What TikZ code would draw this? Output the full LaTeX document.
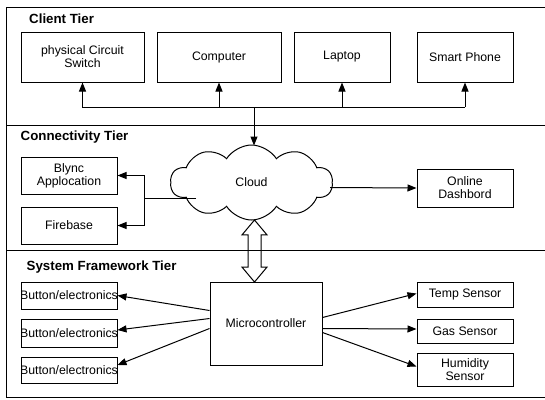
\documentclass[tikz,border=0pt]{standalone}
\usepackage{fontspec}
\setmainfont{Liberation Sans}
\usetikzlibrary{shapes.symbols,shapes.arrows,arrows.meta,calc}
\begin{document}
\begin{tikzpicture}[x=1pt,y=-1pt,
  box/.style={draw, line width=1pt, inner sep=0pt, align=center, font=\fontsize{12.3}{13}\selectfont},
  tier/.style={anchor=west, inner sep=0pt, font=\fontsize{13.3}{14}\selectfont\bfseries},
  frame/.style={line width=0.9pt},
  arr/.style={line width=1pt, -{Triangle[length=9pt,width=7pt]}},
  ln/.style={line width=1pt}]
\useasboundingbox (0,0) rectangle (545,399);
% frame
\draw[frame] (546,7) -- (6.5,7) -- (6.5,397.5) -- (546,397.5);
\draw[frame] (6.5,125.5) -- (546,125.5);
\draw[frame] (6.5,250.5) -- (546,250.5);
% titles
\node[tier] (t1) at (29,19) {Client Tier};
\node[tier] (t2) at (20.5,137) {Connectivity Tier};
\node[tier] (t3) at (26.5,267) {System Framework Tier};
% client boxes
\node[box, minimum width=123pt, minimum height=50pt] (pcs) at (82.5,57) {physical Circuit\\Switch};
\node[box, minimum width=124pt, minimum height=50pt] (comp) at (219,57) {Computer};
\node[box, minimum width=96pt, minimum height=50pt] (lap) at (342,57) {Laptop};
\node[box, minimum width=96pt, minimum height=50pt] (phone) at (465,57) {Smart Phone};
% cloud
\node[cloud, draw, line width=1pt, cloud puffs=10, cloud puff arc=115, aspect=2.3,
      minimum width=162pt, minimum height=75pt, inner sep=0pt, font=\fontsize{12.3}{13}\selectfont] (cloud) at (251.5,182.5) {Cloud};
% connectivity boxes
\node[box, minimum width=96pt, minimum height=37pt] (blync) at (69,175.5) {Blync\\Applocation};
\node[box, minimum width=96pt, minimum height=37pt] (fire) at (69,225.5) {Firebase};
\node[box, minimum width=96pt, minimum height=38pt] (dash) at (465,188) {Online\\Dashbord};
% system boxes
\node[box, minimum width=112pt, minimum height=83pt] (mc) at (266,323.5) {Microcontroller};
\node[box, minimum width=96pt, minimum height=27pt] (b1) at (69,295.5) {};
\node[box, minimum width=96pt, minimum height=28pt] (b2) at (69,333) {};
\node[box, minimum width=96pt, minimum height=26pt] (b3) at (69,370) {};
\node[anchor=center, inner sep=0pt, font=\fontsize{12.3}{13}\selectfont] (b1t) at (b1) {Button/electronics};
\node[anchor=center, inner sep=0pt, font=\fontsize{12.3}{13}\selectfont] (b2t) at (b2) {Button/electronics};
\node[anchor=center, inner sep=0pt, font=\fontsize{12.3}{13}\selectfont] (b3t) at (b3) {Button/electronics};
\node[box, minimum width=96pt, minimum height=25pt] (temp) at (465,294.5) {Temp Sensor};
\node[box, minimum width=96pt, minimum height=24pt] (gas) at (465,331) {Gas Sensor};
\node[box, minimum width=96pt, minimum height=33pt] (hum) at (465,369.5) {Humidity\\Sensor};
% client bus
\coordinate (bus) at (254,107);
\draw[ln] (pcs.south |- bus) -- (phone.south |- bus);
\draw[arr] (bus) -- (pcs.south |- bus) -- (pcs.south);
\draw[arr] (comp.south |- bus) -- (comp.south);
\draw[arr] (lap.south |- bus) -- (lap.south);
\draw[arr] (phone.south |- bus) -- (phone.south);
\draw[arr] (bus) -- (254,145.5);
% cloud to blync / firebase
\coordinate (split) at (144,198);
\draw[ln] (196,198) -- (split);
\draw[arr] (split) |- (blync.east);
\draw[arr] (split) |- (fire.east);
% cloud to dashboard
\draw[arr] (330,187.5) -- (dash.west);
% double arrow cloud <-> microcontroller
\node[double arrow, draw, line width=1pt, rotate=90, minimum height=62pt, minimum width=24pt,
      inner sep=6pt, double arrow head extend=6pt, double arrow tip angle=80] (da) at (254.5,251) {};
% microcontroller arrows
\draw[arr] ($(mc.north west)+(0,29)$) -- (b1.east);
\draw[arr] ($(mc.north west)+(0,37)$) -- ($(b2.east)+(0,-3)$);
\draw[arr] ($(mc.north west)+(0,47)$) -- ($(b3.east)+(0,-5)$);
\draw[arr] ($(mc.north east)+(0,36)$) -- ($(temp.west)+(0,-1)$);
\draw[arr] ($(mc.north east)+(0,47)$) -- ($(gas.west)+(0,-2)$);
\draw[arr] ($(mc.north east)+(0,51)$) -- ($(hum.west)+(0,-3)$);
\end{tikzpicture}
\end{document}
